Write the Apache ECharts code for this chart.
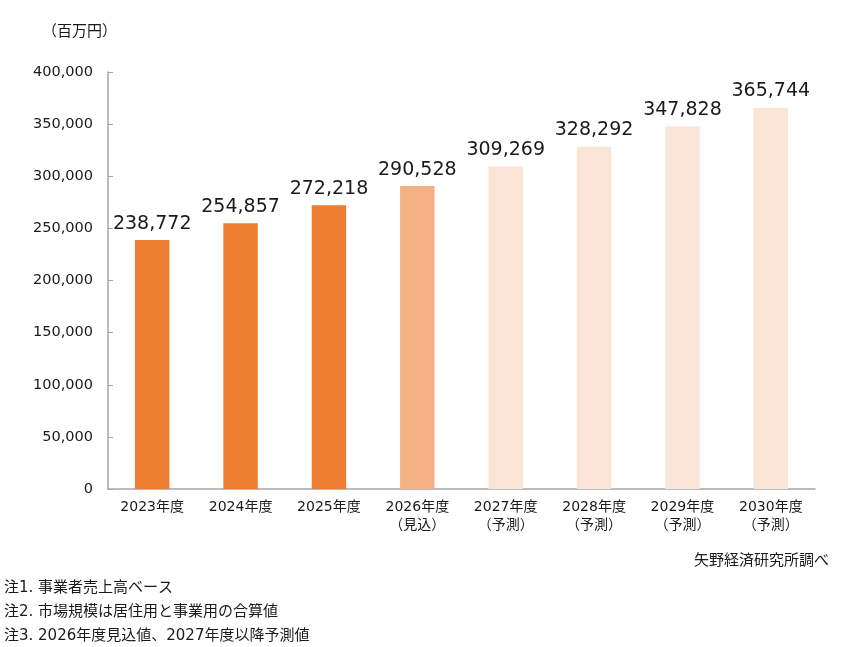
<!DOCTYPE html>
<html>
<head>
<meta charset="utf-8">
<script src="https://cdn.jsdelivr.net/npm/echarts@6/dist/echarts.min.js"></script>
<style>
html,body{margin:0;padding:0;background:#fff;}
#chart{width:843px;height:647px;}
</style>
</head>
<body>
<div id="chart"></div>
<script>
// 年度とサブラベル
var years = ["2023年度","2024年度","2025年度","2026年度","2027年度","2028年度","2029年度","2030年度"];
var subLabels = ["","","","（見込）","（予測）","（予測）","（予測）","（予測）"];
var values = [238772,254857,272218,290528,309269,328292,347828,365744];
var kinds = ["actual","actual","actual","estimate","forecast","forecast","forecast","forecast"];
var notes = ["注1. 事業者売上高ベース","注2. 市場規模は居住用と事業用の合算値","注3. 2026年度見込値、2027年度以降予測値"];

// 数字は幅の広い DejaVu、和文は Noto
var FONT = "'DejaVu Sans', 'Noto Sans CJK JP', sans-serif";
var colors = {actual:"#ED7D31", estimate:"#F4B183", forecast:"#FBE5D6"};

var chart = echarts.init(document.getElementById("chart"));
var cats = years.map(function(y,i){ return subLabels[i] ? y+"\n"+subLabels[i] : y; });

var option = {
	animation:false,
	textStyle:{fontFamily:FONT},
	grid:{left:108,right:28,top:72,bottom:158},
	graphic:[
		{type:"text",left:42,top:25,style:{text:"（百万円）",font:"15px "+FONT,fill:"#1a1a1a"}},
		{type:"text",right:14,top:554,style:{text:"矢野経済研究所調べ",font:"15px "+FONT,fill:"#1a1a1a"}},
		{type:"text",left:4,top:576,style:{text:notes.join("\n"),font:"15px "+FONT,fill:"#1a1a1a",lineHeight:24}}
	],
	xAxis:{
		type:"category",
		data:cats,
		axisLine:{lineStyle:{color:"#A6A6A6",width:1.5}},
		axisTick:{inside:true,length:5,lineStyle:{color:"#A6A6A6"}},
		axisLabel:{color:"#1a1a1a",fontSize:14,lineHeight:18,margin:9,fontFamily:FONT}
	},
	yAxis:{
		type:"value",
		min:0,max:400000,interval:50000,
		axisLine:{show:true,lineStyle:{color:"#A6A6A6",width:1.5}},
		axisTick:{show:true,inside:true,length:5,lineStyle:{color:"#A6A6A6"}},
		splitLine:{show:false},
		axisLabel:{color:"#1a1a1a",fontSize:14.5,margin:15,fontFamily:FONT,
			formatter:function(v){ return v.toLocaleString("en-US"); }}
	},
	series:[{
		type:"bar",
		barWidth:"39%",
		data:values.map(function(v,i){ return {value:v,itemStyle:{color:colors[kinds[i]]}}; }),
		label:{show:true,position:"top",distance:7,color:"#1a1a1a",fontSize:19,fontFamily:FONT,
			formatter:function(p){ return p.value.toLocaleString("en-US"); }}
	}]
};
chart.setOption(option);
</script>
</body>
</html>
